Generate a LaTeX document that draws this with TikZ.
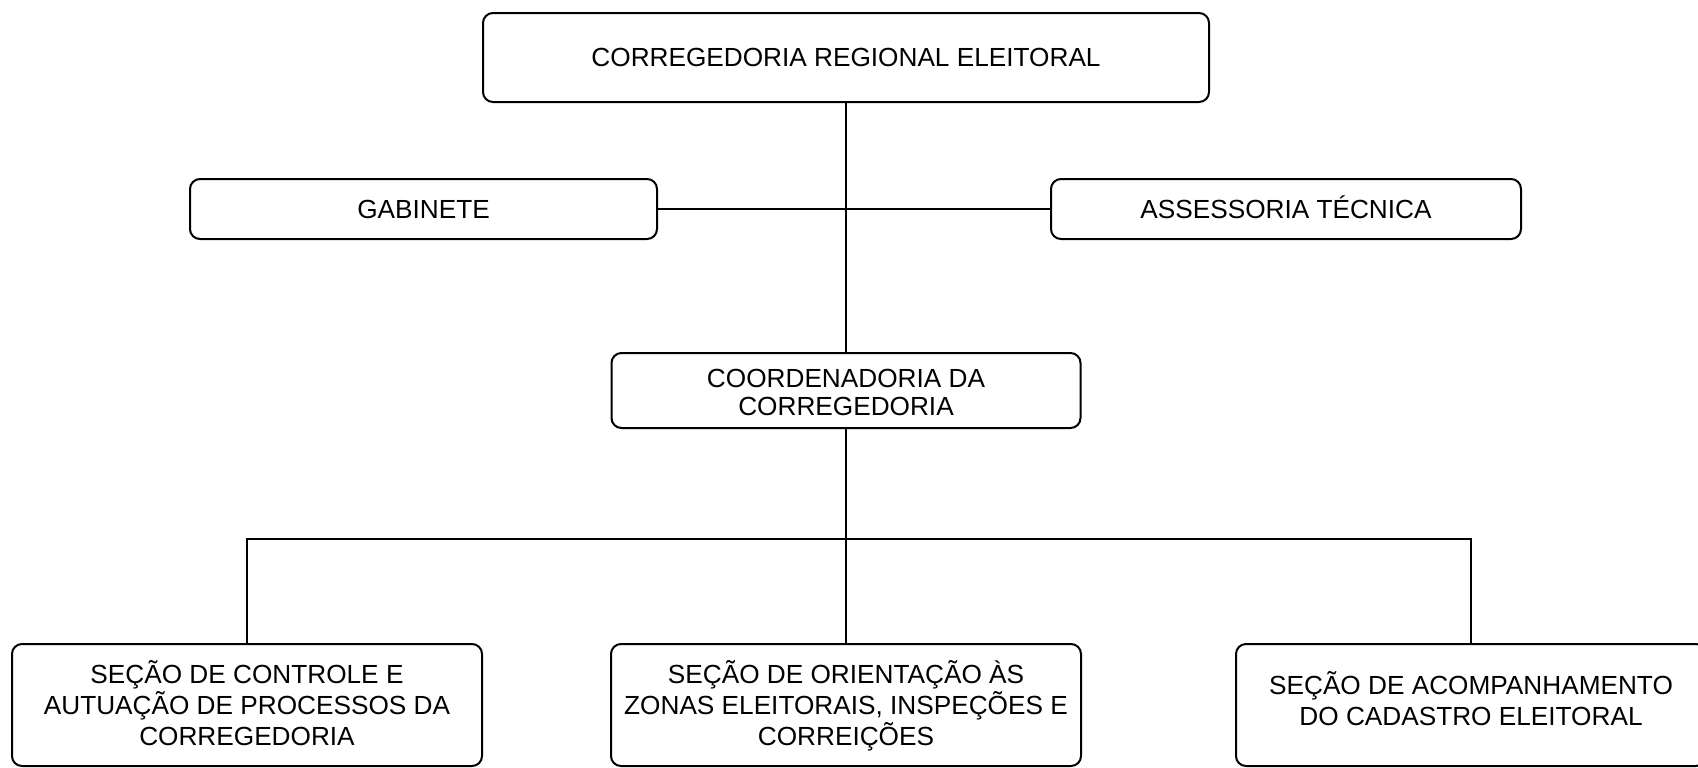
\documentclass[tikz,border=0pt]{standalone}
\usepackage{fontspec}
\setmainfont{Liberation Sans}
\begin{document}
\begin{tikzpicture}[x=0.5pt,y=-0.5pt,
  boxfont/.style={font=\fontsize{13.1}{15.5}\selectfont},
  box/.style={draw, line width=1pt, rounded corners=5pt, inner sep=0pt, align=center, boxfont},
  oneline/.style={text height=9.4pt, text depth=0pt},
  txt/.style={inner sep=0pt, align=center, boxfont},
  conn/.style={line width=0.6pt}]
\useasboundingbox (0,0) rectangle (1698,767);
\clip (0,0) rectangle (1698,767);
\node[box, oneline, minimum width=363pt, minimum height=44.5pt] (top) at (846,57.5) {CORREGEDORIA REGIONAL ELEITORAL};
\node[box, oneline, minimum width=233.5pt, minimum height=30pt] (gab) at (423.5,209) {GABINETE};
\node[box, oneline, minimum width=235pt, minimum height=30pt] (ass) at (1286,209) {ASSESSORIA TÉCNICA};
\node[box, minimum width=234.5pt, minimum height=37.5pt] (coord) at (846,390.5) {};
\node[box, minimum width=235pt, minimum height=61pt] (lb) at (247,705) {};
\node[box, minimum width=235pt, minimum height=61pt] (mb) at (846,705) {};
\node[box, minimum width=235pt, minimum height=61pt] (rb) at (1471,705) {};
\node[txt, font=\fontsize{13.1}{14.3}\selectfont, yshift=-1pt] (coordt) at (coord.center) {COORDENADORIA DA\\CORREGEDORIA};
\node[txt, yshift=1pt] (lbt) at (lb.center) {SEÇÃO DE CONTROLE E\\AUTUAÇÃO DE PROCESSOS DA\\CORREGEDORIA};
\node[txt, yshift=-0.3pt] (mbt) at (mb.center) {SEÇÃO DE ORIENTAÇÃO ÀS\\ZONAS ELEITORAIS, INSPEÇÕES E\\CORREIÇÕES};
\node[txt, yshift=3pt] (rbt) at (rb.center) {SEÇÃO DE ACOMPANHAMENTO\\DO CADASTRO ELEITORAL};
\coordinate (bus) at (846,539);
\draw[conn] (top.south) -- (coord.north);
\draw[conn] (gab.east) -- (ass.west);
\draw[conn] (coord.south) -- (bus);
\draw[conn] (lb.north) -- (lb.north |- bus) -- (rb.north |- bus) -- (rb.north);
\draw[conn] (bus) -- (mb.north);
\end{tikzpicture}
\end{document}
